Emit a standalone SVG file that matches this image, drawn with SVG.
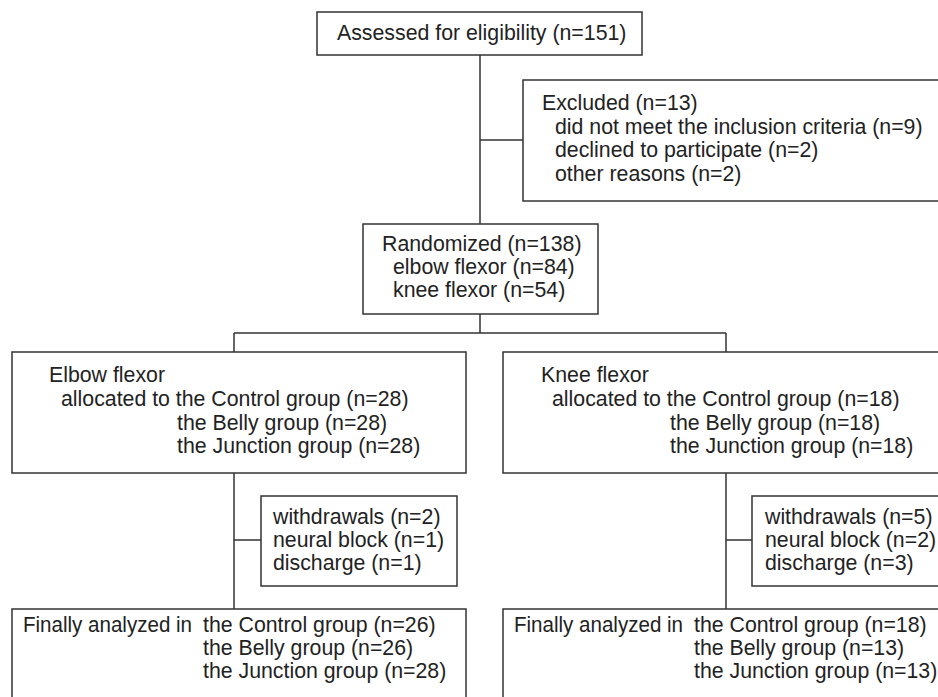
<svg xmlns="http://www.w3.org/2000/svg" width="938" height="697" viewBox="0 0 938 697">
<style>
.box{fill:#fff;stroke:#333;stroke-width:1.5}
.ln{fill:none;stroke:#333;stroke-width:1.5}
text{font-family:"Liberation Sans",Arial,sans-serif;font-size:21.3px;fill:#222}
</style>
<rect width="938" height="697" fill="#fff"/>
<g id="connectors">
<path class="ln" d="M480,55V224M480,140H523M480,314V333M234,333H726M234,333V352M726,333V352M234,473V609M234,540H261M726,473V609M726,540H752"/>
</g>
<g id="assessed">
<rect class="box" x="317" y="12" width="325" height="43"/>
<text x="337" y="40">Assessed for eligibility (n=151)</text>
</g>
<g id="excluded">
<rect class="box" x="523" y="80" width="425" height="121"/>
<text x="542" y="110">Excluded (n=13)</text>
<text x="555" y="134">did not meet the inclusion criteria (n=9)</text>
<text x="555" y="157">declined to participate (n=2)</text>
<text x="555" y="181">other reasons (n=2)</text>
</g>
<g id="randomized">
<rect class="box" x="363" y="224" width="235" height="90"/>
<text x="382" y="251">Randomized (n=138)</text>
<text x="393" y="274">elbow flexor (n=84)</text>
<text x="393" y="297">knee flexor (n=54)</text>
</g>
<g id="elbow">
<rect class="box" x="12" y="352" width="454" height="121"/>
<text x="49" y="382">Elbow flexor</text>
<text x="61" y="406">allocated to the Control group (n=28)</text>
<text x="177" y="430">the Belly group (n=28)</text>
<text x="177" y="453">the Junction group (n=28)</text>
</g>
<g id="knee">
<rect class="box" x="503" y="352" width="445" height="121"/>
<text x="541" y="382">Knee flexor</text>
<text x="552" y="406">allocated to the Control group (n=18)</text>
<text x="670" y="430">the Belly group (n=18)</text>
<text x="670" y="453">the Junction group (n=18)</text>
</g>
<g id="elbow-withdrawals">
<rect class="box" x="261" y="496" width="196" height="90"/>
<text x="273" y="524">withdrawals (n=2)</text>
<text x="273" y="547">neural block (n=1)</text>
<text x="273" y="570">discharge (n=1)</text>
</g>
<g id="knee-withdrawals">
<rect class="box" x="752" y="496" width="196" height="90"/>
<text x="765" y="524">withdrawals (n=5)</text>
<text x="765" y="547">neural block (n=2)</text>
<text x="765" y="570">discharge (n=3)</text>
</g>
<g id="elbow-final">
<rect class="box" x="12" y="609" width="454" height="110"/>
<text y="632"><tspan x="23" textLength="169" lengthAdjust="spacingAndGlyphs">Finally analyzed in</tspan><tspan x="203">the Control group (n=26)</tspan></text>
<text x="203" y="655">the Belly group (n=26)</text>
<text x="203" y="678">the Junction group (n=28)</text>
</g>
<g id="knee-final">
<rect class="box" x="503" y="609" width="445" height="110"/>
<text y="632"><tspan x="514" textLength="169" lengthAdjust="spacingAndGlyphs">Finally analyzed in</tspan><tspan x="694">the Control group (n=18)</tspan></text>
<text x="694" y="655">the Belly group (n=13)</text>
<text x="694" y="678">the Junction group (n=13)</text>
</g>
</svg>
